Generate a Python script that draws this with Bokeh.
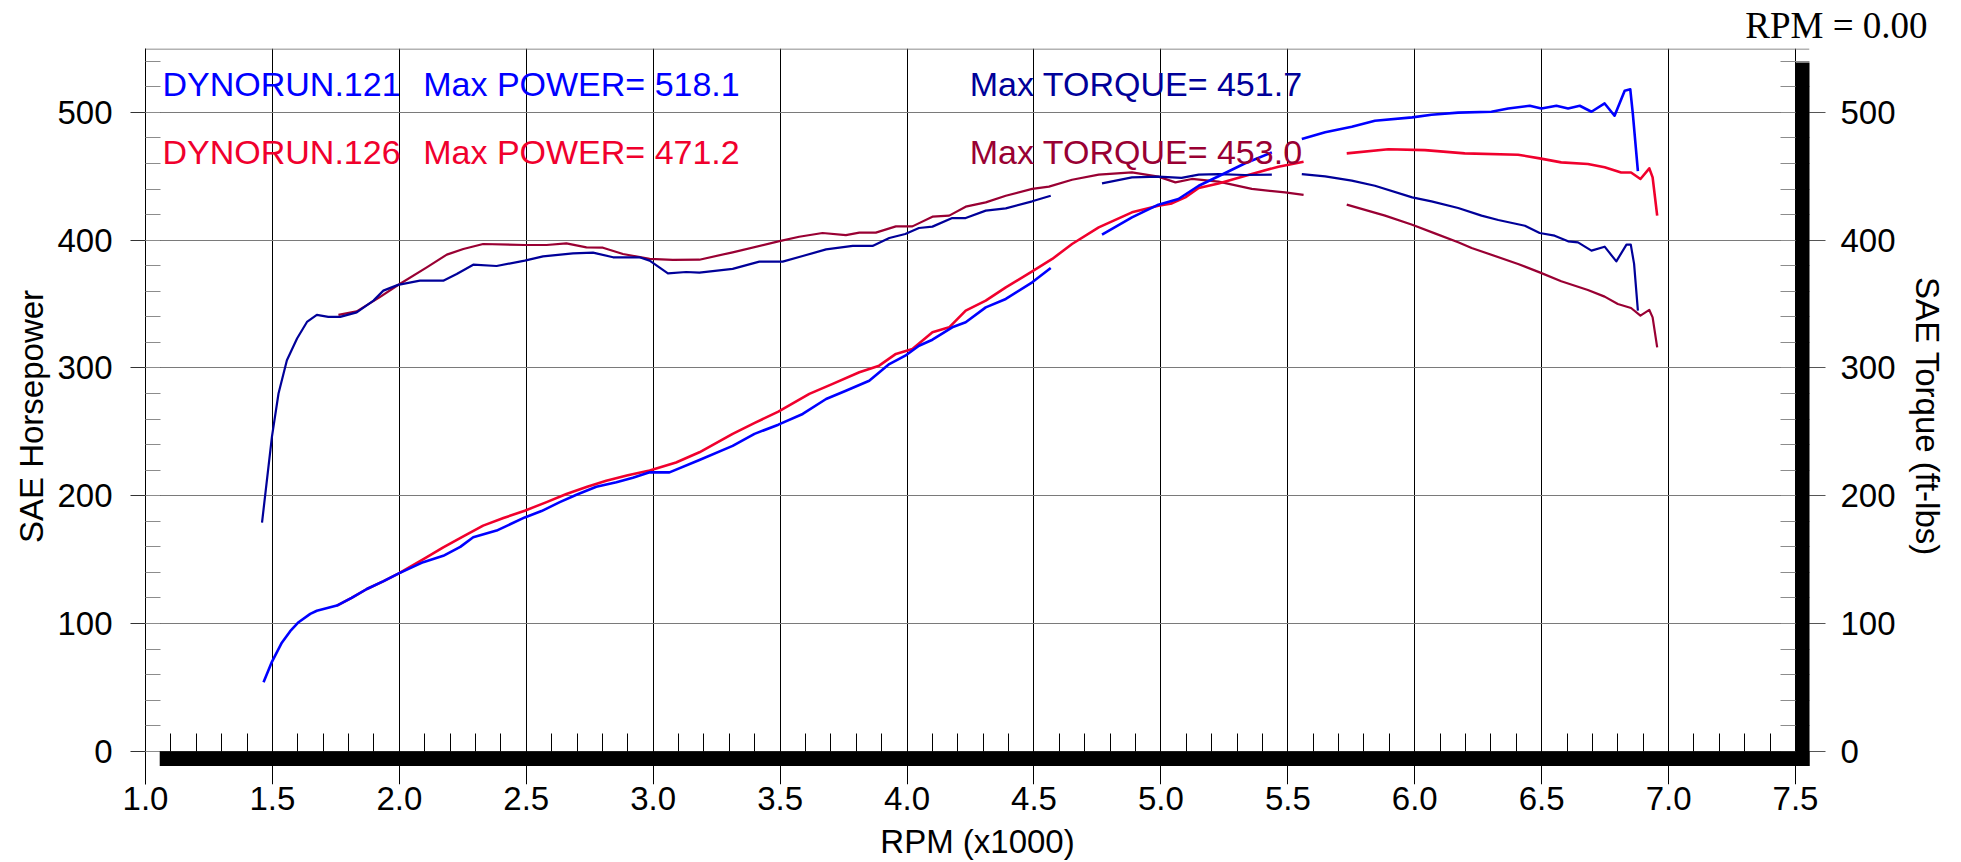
from bokeh.plotting import figure
from bokeh.models import (LinearAxis, FixedTicker, Range1d, Label, ColumnDataSource, Span,
                          PrintfTickFormatter, CustomJSTickFormatter)
from bokeh.embed import file_html
from bokeh.resources import INLINE

NAN = float("nan")

# ---------------- data ----------------
# DYNORUN.121 power (blue)
rpm_hp_121 = [1.465, 1.498, 1.537, 1.570, 1.603, 1.649, 1.675, 1.754, 1.812, 1.872, 1.936, 1.996,
              2.094, 2.173, 2.240, 2.291, 2.383, 2.494, 2.560, 2.632, 2.700, 2.776, 2.855, 2.920,
              2.986, 3.064, 3.182, 3.313, 3.399, 3.493, 3.589, 3.681, 3.759, 3.851, 3.930, 3.993,
              4.047, 4.100, 4.178, 4.231, 4.310, 4.389, 4.493, 4.566, NAN,
              4.768, 4.886, 4.990, 5.069, 5.149, 5.227, 5.330, 5.437, NAN,
              5.555, 5.647, 5.752, 5.843, 5.990, 6.066, 6.171, 6.302, 6.368, 6.453, 6.499, 6.558,
              6.604, 6.650, 6.696, 6.748, 6.787, 6.827, 6.849, 6.859, 6.879]
hp_121 = [54, 70, 85, 94, 101, 107.5, 110, 114, 120, 127, 133, 139,
          148, 153, 160, 167.5, 172.7, 183, 188, 195, 201, 207, 210.5, 214,
          218.3, 218.3, 228, 239, 248.4, 255.6, 264, 275.7, 282.2, 290, 303, 309.6,
          317.4, 322.1, 331.8, 335.7, 347.4, 354, 367, 378.2, NAN,
          404.3, 417.8, 427.8, 432.2, 442.6, 450, 460, 468.7, NAN,
          479.2, 484.4, 488.8, 493.5, 496.1, 498.2, 499.8, 500.5, 503.1, 505.2, 503.1, 505.2,
          503.1, 505.2, 500.5, 507, 497.4, 517, 518.1, 499, 454]

# DYNORUN.121 torque (navy)
rpm_tq_121 = [1.459, 1.498, 1.524, 1.557, 1.597, 1.636, 1.675, 1.720, 1.767, 1.832, 1.898, 1.937,
              1.995, 2.081, 2.173, 2.226, 2.291, 2.383, 2.494, 2.566, 2.684, 2.763, 2.842, 2.946,
              2.986, 3.058, 3.130, 3.182, 3.313, 3.418, 3.510, 3.589, 3.681, 3.786, 3.864, 3.930,
              3.993, 4.047, 4.100, 4.178, 4.231, 4.310, 4.389, 4.493, 4.566, NAN,
              4.768, 4.886, 4.990, 5.081, 5.149, 5.227, 5.330, 5.437, NAN,
              5.555, 5.647, 5.752, 5.843, 5.990, 6.066, 6.171, 6.263, 6.329, 6.434, 6.492, 6.551,
              6.604, 6.643, 6.696, 6.748, 6.794, 6.834, 6.851, 6.864, 6.879]
tq_121 = [179, 246, 280, 306, 323, 336, 341.5, 340, 340, 343.5, 352.7, 360.5,
          365, 368.3, 368.3, 373.5, 380.8, 379.8, 384, 387.3, 389.7, 390.2, 386.6, 386.6,
          384, 374, 375.1, 374.6, 377.5, 383.2, 383.2, 387.6, 392.8, 395.5, 395.5, 401.7,
          404.8, 409.5, 410.6, 417.3, 417.3, 423.1, 424.9, 430.4, 434.8, NAN,
          444.5, 449.1, 449.7, 448.7, 451.3, 451.7, 451, 451.3, NAN,
          451.7, 449.9, 446.6, 442.6, 433.5, 430.4, 425.2, 419.2, 415.8, 411.3, 405.6, 403.5,
          399.1, 398.3, 391.8, 394.9, 383.4, 396.5, 396.5, 381.4, 344.8]

# DYNORUN.126 power (red)
rpm_hp_126 = [1.754, 1.812, 1.872, 1.936, 1.996, 2.100, 2.173, 2.250, 2.330, 2.410, 2.494, 2.580,
              2.658, 2.740, 2.815, 2.900, 2.986, 3.090, 3.182, 3.313, 3.400, 3.493, 3.615, 3.707,
              3.812, 3.890, 3.956, 4.021, 4.100, 4.166, 4.231, 4.310, 4.389, 4.493, 4.572, 4.650,
              4.755, 4.886, 4.990, 5.043, 5.096, 5.149, 5.227, 5.358, 5.463, 5.562, NAN,
              5.732, 5.896, 6.040, 6.197, 6.407, 6.492, 6.577, 6.682, 6.748, 6.813, 6.852, 6.889,
              6.924, 6.937, 6.955]
hp_126 = [114, 120, 127, 133, 139, 151, 159.6, 168, 176.6, 182.5, 188.3, 195,
          201.4, 207, 211.8, 216, 219.7, 226, 234, 248.4, 257, 265.8, 279.7, 287.5,
          296.6, 301.8, 311, 314.9, 327.9, 331.8, 344.8, 352.7, 363.1, 375.6, 385.3, 397,
          410, 421.8, 427, 428.8, 433.5, 440.8, 444.4, 451.8, 457.5, 461.4, NAN,
          467.9, 471.2, 470.5, 467.9, 466.9, 464, 460.9, 459.6, 457, 453, 453, 447.9,
          456.2, 449.1, 419.2]

# DYNORUN.126 torque (maroon)
rpm_tq_126 = [1.760, 1.832, 1.920, 1.995, 2.108, 2.187, 2.252, 2.330, 2.494, 2.580, 2.658, 2.737,
              2.802, 2.881, 2.986, 3.077, 3.182, 3.313, 3.493, 3.575, 3.667, 3.759, 3.812, 3.877,
              3.956, 4.021, 4.100, 4.166, 4.231, 4.310, 4.389, 4.493, 4.559, 4.650, 4.755, 4.886,
              4.990, 5.057, 5.122, 5.227, 5.358, 5.489, 5.562, NAN,
              5.732, 5.883, 5.990, 6.079, 6.171, 6.224, 6.407, 6.492, 6.577, 6.682, 6.748, 6.800,
              6.852, 6.889, 6.924, 6.937, 6.955]
tq_126 = [341.5, 344.3, 355, 364.9, 378.7, 388.7, 393.1, 397, 396.2, 396.2, 397.5, 394.4,
          394.1, 389.2, 385.3, 384.5, 384.7, 390.5, 399, 402.7, 405.6, 404, 405.9, 405.9,
          410.8, 410.8, 418.4, 419.2, 426.2, 429.6, 434.8, 440.1, 441.9, 447.3, 451.3, 453.0,
          449.7, 445.2, 447.9, 445.8, 440.1, 437.4, 435.4, NAN,
          427.8, 419.2, 412.1, 405.3, 398.3, 393.9, 381.4, 374.8, 367.8, 361, 355.8, 350.1,
          346.9, 340.9, 345.4, 339.6, 316.1]

x_ticks = [1.0, 1.5, 2.0, 2.5, 3.0, 3.5, 4.0, 4.5, 5.0, 5.5, 6.0, 6.5, 7.0, 7.5]
x_minor_ticks = [round(1.0 + 0.1 * i, 1) for i in range(66)]
y_ticks = [0, 100, 200, 300, 400, 500]
y_minor_ticks = [20 * i for i in range(28)]

run_names = ["DYNORUN.121", "DYNORUN.126"]
max_power = ["518.1", "471.2"]
max_torque = ["451.7", "453.0"]
status_text = "RPM = 0.00"

# ---------------- styling / layout ----------------
FONT = "Liberation Sans"
C_HP121, C_TQ121 = "#0000ff", "#000099"
C_HP126, C_TQ126 = "#f0002d", "#990033"

p = figure(frame_width=1664, frame_height=736,
           x_range=Range1d(1.0, 7.555), y_range=Range1d(-26, 550),
           output_backend="svg", toolbar_location=None,
           min_border_left=145, min_border_right=140, min_border_top=48, min_border_bottom=60,
           background_fill_color="white", border_fill_color="white",
           outline_line_color=None)

# status read-out at the top right (figure title)
p.title.text = status_text
p.title.align = "right"
p.title.text_font = "Liberation Serif"
p.title.text_font_size = "37px"
p.title.text_font_style = "normal"
p.title.text_color = "black"
p.title.standoff = 5
p.title.offset = -118

# bottom axis with labels only
xa = p.xaxis[0]
xa.ticker = FixedTicker(ticks=x_ticks)
xa.formatter = PrintfTickFormatter(format="%.1f")
xa.axis_line_color = None
xa.major_tick_line_color = None
xa.minor_tick_line_color = None
xa.major_tick_in = 0
xa.major_tick_out = 0
xa.minor_tick_in = 0
xa.minor_tick_out = 0
xa.major_label_standoff = 2
xa.major_label_text_font = FONT
xa.major_label_text_font_size = "33px"
xa.major_label_text_color = "black"
xa.axis_label = "RPM (x1000)"
xa.axis_label_text_font = FONT
xa.axis_label_text_font_size = "33px"
xa.axis_label_text_font_style = "normal"
xa.axis_label_text_color = "black"
xa.axis_label_standoff = 10

# left axis
ya = p.yaxis[0]
ya.ticker = FixedTicker(ticks=y_ticks, minor_ticks=y_minor_ticks)
ya.axis_line_color = "black"
ya.major_tick_in = 15
ya.major_tick_out = 15
ya.minor_tick_in = 15
ya.minor_tick_out = 0
ya.major_tick_line_color = "#333333"
ya.minor_tick_line_color = "#8c8c8c"
ya.major_label_standoff = 18
ya.major_label_text_font = FONT
ya.major_label_text_font_size = "33px"
ya.major_label_text_color = "black"
ya.axis_label = "SAE Horsepower"
ya.axis_label_text_font = FONT
ya.axis_label_text_font_size = "33px"
ya.axis_label_text_font_style = "normal"
ya.axis_label_text_color = "black"
ya.axis_label_standoff = 4

# right axis
yr = LinearAxis(ticker=FixedTicker(ticks=y_ticks, minor_ticks=y_minor_ticks))
yr.axis_line_color = None
yr.major_tick_in = 29
yr.major_tick_out = 16
yr.minor_tick_in = 29
yr.minor_tick_out = 0
yr.major_tick_line_color = "#555555"
yr.minor_tick_line_color = "#8c8c8c"
yr.major_label_standoff = 15
yr.major_label_text_font = FONT
yr.major_label_text_font_size = "33px"
yr.major_label_text_color = "black"
yr.axis_label = "SAE Torque (ft-lbs)"
yr.axis_label_text_font = FONT
yr.axis_label_text_font_size = "33px"
yr.axis_label_text_font_style = "normal"
yr.axis_label_text_color = "black"
yr.axis_label_standoff = 10
p.add_layout(yr, "right")

# minor RPM ticks sitting on the zero line (pointing up into the frame)
fa = LinearAxis(fixed_location=0, ticker=FixedTicker(ticks=x_ticks, minor_ticks=x_minor_ticks),
                formatter=CustomJSTickFormatter(code="return ''"))
fa.axis_line_color = None
fa.major_tick_in = 18
fa.major_tick_out = 0
fa.minor_tick_in = 18
fa.minor_tick_out = 0
fa.major_tick_line_color = "black"
fa.minor_tick_line_color = "black"
fa.major_label_standoff = 0
fa.major_label_text_font_size = "0px"
p.add_layout(fa, "below")

# top frame line
p.add_layout(Span(location=549.6, dimension="width", line_color="#666666", line_width=1))

# grids
p.xgrid[0].ticker = FixedTicker(ticks=x_ticks)
p.xgrid[0].grid_line_color = "black"
p.xgrid[0].grid_line_width = 1
p.ygrid[0].ticker = FixedTicker(ticks=y_ticks)
p.ygrid[0].grid_line_color = "#7a7a7a"
p.ygrid[0].grid_line_width = 1

# curves
curves = [
    (rpm_tq_126, tq_126, C_TQ126, 2.2),
    (rpm_hp_126, hp_126, C_HP126, 2.6),
    (rpm_tq_121, tq_121, C_TQ121, 2.2),
    (rpm_hp_121, hp_121, C_HP121, 2.6),
]
for xs, ys, col, lw in curves:
    src = ColumnDataSource(dict(x=xs, y=ys))
    p.line("x", "y", source=src, line_color=col, line_width=lw, line_join="round")

# thick black indicator bars (decoration of the dyno screen)
bar_src = ColumnDataSource(dict(left=[1.056, 7.5], right=[7.555, 7.555],
                                bottom=[-11.5, -11.5], top=[0, 539]))
rb = p.quad(left="left", right="right", bottom="bottom", top="top", source=bar_src,
            fill_color="black", line_color=None)
rb.level = "overlay"

# legend texts
rows = [(522.5, C_HP121, C_TQ121), (468.7, C_HP126, C_TQ126)]
for i, (ybase, c_hp, c_tq) in enumerate(rows):
    p.add_layout(Label(x=1.067, y=ybase, text=run_names[i], text_color=c_hp,
                       text_font=FONT, text_font_size="34px", text_baseline="alphabetic"))
    p.add_layout(Label(x=2.094, y=ybase, text="Max POWER= " + max_power[i], text_color=c_hp,
                       text_font=FONT, text_font_size="34px", text_baseline="alphabetic"))
    p.add_layout(Label(x=4.247, y=ybase, text="Max TORQUE= " + max_torque[i], text_color=c_tq,
                       text_font=FONT, text_font_size="34px", text_baseline="alphabetic"))

open("out.html", "w").write(file_html(p, INLINE))
